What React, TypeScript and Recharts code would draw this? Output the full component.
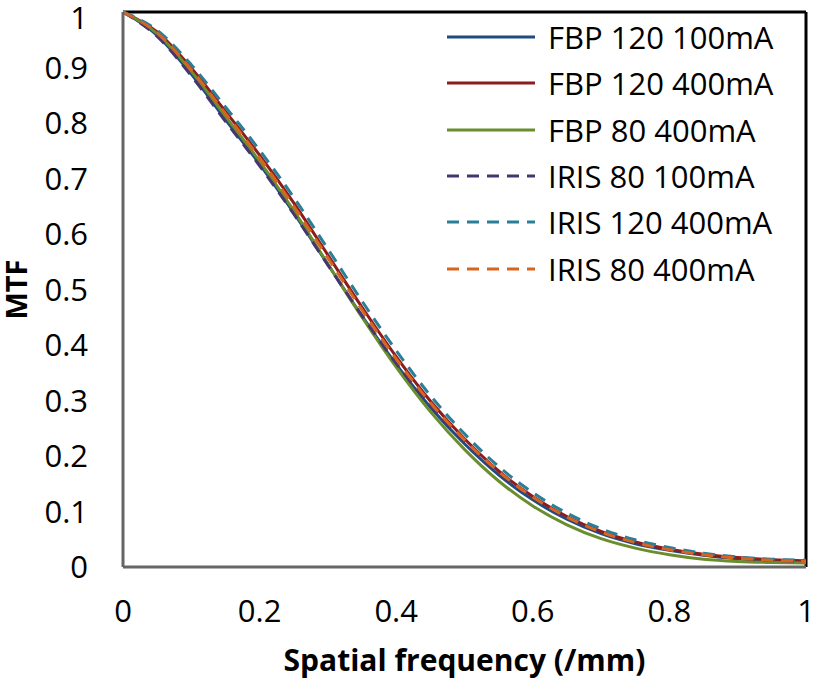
import React from 'react';
import { LineChart, Line, XAxis, YAxis, Legend, ReferenceLine, Label } from 'recharts';

// spatial frequency (/mm), sampled every 0.05
const freq = [0, 0.05, 0.1, 0.15, 0.2, 0.25, 0.3, 0.35, 0.4, 0.45, 0.5, 0.55, 0.6, 0.65, 0.7, 0.75, 0.8, 0.85, 0.9, 0.95, 1];

const fbp120_100 = [1, 0.958, 0.888, 0.806, 0.726, 0.638, 0.545, 0.452, 0.365, 0.288, 0.222, 0.166, 0.121, 0.086, 0.06, 0.042, 0.03, 0.021, 0.015, 0.012, 0.01];
const fbp120_400 = [1, 0.964, 0.899, 0.821, 0.742, 0.656, 0.562, 0.468, 0.379, 0.299, 0.231, 0.173, 0.127, 0.091, 0.064, 0.045, 0.032, 0.023, 0.017, 0.013, 0.011];
const fbp80_400 = [1, 0.961, 0.893, 0.812, 0.731, 0.642, 0.546, 0.45, 0.36, 0.28, 0.212, 0.155, 0.11, 0.076, 0.051, 0.034, 0.022, 0.014, 0.01, 0.008, 0.007];
const iris80_100 = [1, 0.956, 0.885, 0.803, 0.723, 0.636, 0.544, 0.453, 0.367, 0.291, 0.226, 0.17, 0.125, 0.09, 0.063, 0.044, 0.031, 0.022, 0.016, 0.012, 0.01];
const iris120_400 = [1, 0.967, 0.905, 0.829, 0.751, 0.666, 0.573, 0.479, 0.39, 0.309, 0.24, 0.181, 0.134, 0.097, 0.069, 0.049, 0.035, 0.025, 0.018, 0.014, 0.012];
const iris80_400 = [1, 0.962, 0.896, 0.817, 0.737, 0.65, 0.557, 0.463, 0.375, 0.296, 0.229, 0.172, 0.126, 0.09, 0.063, 0.044, 0.031, 0.022, 0.016, 0.012, 0.01];

const xTicks = [0, 0.2, 0.4, 0.6, 0.8, 1];
const yTicks = [0, 0.1, 0.2, 0.3, 0.4, 0.5, 0.6, 0.7, 0.8, 0.9, 1];

const series = [
  { key: 'fbp120_100', name: 'FBP 120 100mA', values: fbp120_100, color: '#1F4A82', dash: undefined },
  { key: 'fbp120_400', name: 'FBP 120 400mA', values: fbp120_400, color: '#8E1C1C', dash: undefined },
  { key: 'fbp80_400', name: 'FBP 80 400mA', values: fbp80_400, color: '#6A8E2E', dash: undefined },
  { key: 'iris80_100', name: 'IRIS 80 100mA', values: iris80_100, color: '#45366F', dash: '12 8' },
  { key: 'iris120_400', name: 'IRIS 120 400mA', values: iris120_400, color: '#2B7E98', dash: '12 8' },
  { key: 'iris80_400', name: 'IRIS 80 400mA', values: iris80_400, color: '#D8651F', dash: '12 8' },
];

const data = freq.map((f, i) => {
  const row: Record<string, number> = { f };
  series.forEach((s) => {
    row[s.key] = s.values[i];
  });
  return row;
});

const renderLegend = () => (
  <div>
    {series.map((s) => (
      <div key={s.key} style={{ display: 'flex', alignItems: 'center', height: 46.3 }}>
        <svg width={90} height={10} style={{ marginRight: 12 }}>
          <line x1={1} y1={5} x2={89} y2={5} stroke={s.color} strokeWidth={3} strokeDasharray={s.dash} />
        </svg>
        <span style={{ fontSize: 31, color: '#000', whiteSpace: 'nowrap' }}>{s.name}</span>
      </div>
    ))}
  </div>
);

const App: React.FC = () => {
  return (
    <div style={{ position: 'absolute', left: 0, top: 0, fontFamily: '"Open Sans", sans-serif' }}>
      <LineChart width={816} height={688} data={data} margin={{ top: 12, right: 10, bottom: 0, left: 0 }}>
        <XAxis
          dataKey="f"
          type="number"
          domain={[0, 1]}
          ticks={xTicks}
          height={121}
          tickSize={0}
          tickMargin={33}
          axisLine={{ stroke: '#666', strokeWidth: 3 }}
          tick={{ fill: '#000', fontSize: 31 }}
        >
          <Label value="Spatial frequency (/mm)" position="insideBottom" offset={17} style={{ fontSize: 30, fontWeight: 700, fill: '#000' }} />
        </XAxis>
        <YAxis
          type="number"
          domain={[0, 1]}
          ticks={yTicks}
          width={123}
          tickSize={0}
          tickMargin={35}
          axisLine={{ stroke: '#666', strokeWidth: 3 }}
          tick={{ fill: '#000', fontSize: 31 }}
        >
          <Label value="MTF" angle={-90} position="insideLeft" offset={17} style={{ fontSize: 29, fontWeight: 700, fill: '#000', textAnchor: 'middle' }} />
        </YAxis>
        <ReferenceLine y={1} stroke="#000" strokeWidth={3} />
        <ReferenceLine x={1} stroke="#000" strokeWidth={3} />
        {series.map((s) => (
          <Line
            key={s.key}
            type="monotone"
            dataKey={s.key}
            name={s.name}
            stroke={s.color}
            strokeWidth={3}
            strokeDasharray={s.dash}
            dot={false}
            isAnimationActive={false}
          />
        ))}
        <Legend
          content={renderLegend}
          layout="vertical"
          align="center"
          verticalAlign="middle"
          wrapperStyle={{ left: 446, top: 14, width: 370 }}
        />
      </LineChart>
    </div>
  );
};

export default App;
